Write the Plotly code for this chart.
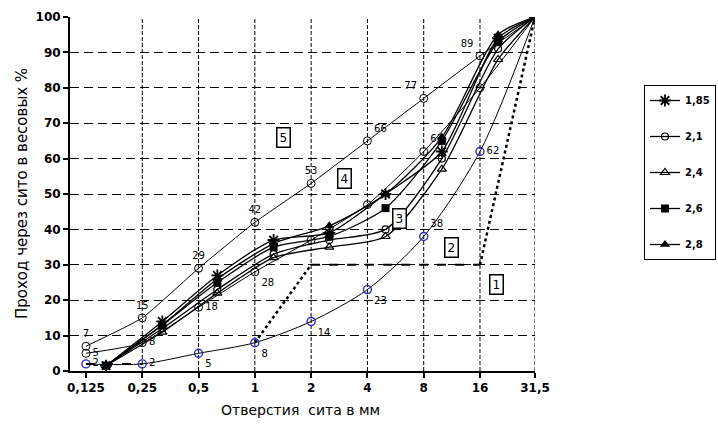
import numpy as np
import plotly.graph_objects as go

# ---------------- data ----------------
sieve_ticks = [0.125, 0.25, 0.5, 1, 2, 4, 8, 16, 31.5]
sieve_labels = ["0,125", "0,25", "0,5", "1", "2", "4", "8", "16", "31,5"]

# grading envelope curves (at sieve sizes)
curve5_y = [7, 15, 29, 42, 53, 65, 77, 89, 100]
curve5_lbl = ["7", "15", "29", "42", "53", "66", "77", "89", ""]
curve4_y = [5, 8, 18, 28, 37, 47, 62, 80, 100]
curve4_lbl = ["5", "8", "18", "28", "", "", "62", "", ""]
curve2_y = [2, 2, 5, 8, 14, 23, 38, 62, 100]
curve2_lbl = ["2", "2", "5", "8", "14", "23", "38", "62", ""]

curve1_x = [0.125, 0.25, 0.5, 1, 2, 16, 31.5]
curve1_y = [2, 2, 5, 8, 30, 30, 100]

# measured mixes (legend series)
mix_x = [0.16, 0.32, 0.63, 1.26, 2.5, 5, 10, 20, 31.5]
mix_names = ["1,85", "2,1", "2,4", "2,6", "2,8"]
mix_1_85 = [1.5, 14, 27, 37, 39, 50, 62, 94, 100]
mix_2_1 = [1.5, 12, 23, 33, 37, 40, 60, 91, 100]
mix_2_4 = [1.5, 11, 22, 32, 35, 38, 57, 88, 100]
mix_2_6 = [1.5, 13, 25, 35, 38, 46, 65, 93, 100]
mix_2_8 = [1.5, 13, 26, 36, 41, 50, 66, 95, 100]

zone_labels = ["5", "4", "3", "2", "1"]
zone_x = [1.43, 3.03, 5.97, 11.2, 19.7]
zone_y = [66, 54.5, 43, 35, 24.5]

# ---------------- figure ----------------
FONT = "DejaVu Sans, Verdana, sans-serif"
fig = go.Figure()

# envelope curves
fig.add_trace(go.Scatter(x=sieve_ticks, y=curve5_y, mode="lines+markers",
                         line=dict(color="black", width=1, shape="spline", smoothing=0.4),
                         marker=dict(symbol="circle-open", size=8, color="black", line=dict(width=1)),
                         showlegend=False, hoverinfo="skip"))
fig.add_trace(go.Scatter(x=sieve_ticks, y=curve4_y, mode="lines+markers",
                         line=dict(color="black", width=1, shape="spline", smoothing=0.6),
                         marker=dict(symbol="circle-open", size=8, color="black", line=dict(width=1)),
                         showlegend=False, hoverinfo="skip"))
fig.add_trace(go.Scatter(x=sieve_ticks, y=curve2_y, mode="lines+markers",
                         line=dict(color="black", width=1, shape="spline", smoothing=0.8),
                         marker=dict(symbol="circle-open", size=8, color="#2b2bb8", line=dict(width=1.4)),
                         showlegend=False, hoverinfo="skip"))

# curve 1 (gap grading): dotted rises, dashed horizontal
fig.add_trace(go.Scatter(x=curve1_x[:2], y=curve1_y[:2], mode="lines",
                         line=dict(color="black", width=2, dash="dash"),
                         showlegend=False, hoverinfo="skip"))
fig.add_trace(go.Scatter(x=curve1_x[3:5], y=curve1_y[3:5], mode="lines",
                         line=dict(color="black", width=2.5, dash="dot"),
                         showlegend=False, hoverinfo="skip"))
fig.add_trace(go.Scatter(x=curve1_x[4:6], y=curve1_y[4:6], mode="lines",
                         line=dict(color="black", width=2, dash="dash"),
                         showlegend=False, hoverinfo="skip"))
fig.add_trace(go.Scatter(x=curve1_x[5:7], y=curve1_y[5:7], mode="lines",
                         line=dict(color="black", width=2.5, dash="dot"),
                         showlegend=False, hoverinfo="skip"))

# mixes
mix_data = [mix_1_85, mix_2_1, mix_2_4, mix_2_6, mix_2_8]
mix_markers = [
    dict(symbol="asterisk-open", size=10, color="black", line=dict(width=1.8, color="black")),
    dict(symbol="circle-open", size=7, color="black", line=dict(width=1.2)),
    dict(symbol="triangle-up-open", size=8, color="black", line=dict(width=1.2)),
    dict(symbol="square", size=8, color="black"),
    dict(symbol="triangle-up", size=9, color="black"),
]
for i, (nm, yy, mk) in enumerate(zip(mix_names, mix_data, mix_markers)):
    fig.add_trace(go.Scatter(x=mix_x, y=yy, mode="lines+markers", name=nm,
                             legendgroup=f"g{i}",
                             line=dict(color="black", width=1.3, shape="spline", smoothing=0.7),
                             marker=mk, hoverinfo="skip"))

# value labels (invisible markers give the text an offset from the points)
lab_font = dict(family=FONT, size=10, color="black")
ghost = dict(size=9, opacity=0)
fig.add_trace(go.Scatter(x=sieve_ticks, y=curve5_y, mode="markers+text", text=curve5_lbl,
                         marker=ghost,
                         textposition=["top center", "top center", "top center", "top center",
                                       "top center", "top right", "top left", "top left", "top center"],
                         textfont=lab_font, showlegend=False, hoverinfo="skip"))
fig.add_trace(go.Scatter(x=sieve_ticks, y=curve4_y, mode="markers+text", text=curve4_lbl,
                         marker=ghost,
                         textposition=["middle right", "middle right", "middle right", "bottom right",
                                       "middle right", "middle right", "top right", "middle right", "middle right"],
                         textfont=lab_font, showlegend=False, hoverinfo="skip"))
fig.add_trace(go.Scatter(x=sieve_ticks, y=curve2_y, mode="markers+text", text=curve2_lbl,
                         marker=ghost,
                         textposition=["middle right", "middle right", "bottom right", "bottom right",
                                       "bottom right", "bottom right", "top right", "middle right", "middle right"],
                         textfont=lab_font, showlegend=False, hoverinfo="skip"))

# zone boxes
for lb, zx, zy in zip(zone_labels, zone_x, zone_y):
    fig.add_annotation(x=np.log10(zx), y=zy, xref="x", yref="y", text=lb, showarrow=False,
                       font=dict(family=FONT, size=12, color="black"),
                       bordercolor="black", borderwidth=1.5, borderpad=2, bgcolor="white")

# vertical grid lines (no line at the first sieve)
for v in sieve_ticks[1:]:
    fig.add_shape(type="line", xref="x", yref="y", x0=v, x1=v, y0=0, y1=100,
                  line=dict(color="black", width=1, dash="4px,2px"), layer="below")

fig.add_annotation(x=(22 - 70) / 465, y=(371 - 194) / 354, xref="paper", yref="paper",
                   text="Проход через сито в весовых %", xanchor="center", yanchor="middle",
                   textangle=-90, showarrow=False, font=dict(family=FONT, size=15, color="black"))
fig.add_annotation(x=(300 - 70) / 465, y=-(410 - 371) / 354, xref="paper", yref="paper",
                   text="Отверстия  сита в мм", xanchor="center", yanchor="middle",
                   showarrow=False, font=dict(family=FONT, size=14, color="black"))

fig.update_layout(
    width=718, height=425,
    margin=dict(l=70, r=183, t=17, b=54, autoexpand=False),
    paper_bgcolor="white", plot_bgcolor="white",
    font=dict(family=FONT, color="black"),
    xaxis=dict(type="log", range=[-0.9886, 1.4983], tickvals=sieve_ticks, ticktext=sieve_labels,
               showgrid=False, zeroline=False, showline=True, linecolor="black", linewidth=2,
               ticks="outside", ticklen=5, tickcolor="black", tickwidth=1.5,
               tickfont=dict(family=FONT, size=12, color="black", weight="bold")),
    yaxis=dict(range=[0, 100], dtick=10, tick0=0, showgrid=True, gridcolor="black", gridwidth=1,
               griddash="9px,5px", zeroline=False, showline=True, linecolor="black", linewidth=2,
               ticks="outside", ticklen=5, tickcolor="black", tickwidth=1.5,
               tickfont=dict(family=FONT, size=12, color="black", weight="bold")),
    legend=dict(x=(644 - 70) / 465, y=(371 - 85) / 354, xanchor="left", yanchor="top",
                bordercolor="black", borderwidth=1, bgcolor="white",
                tracegroupgap=17, itemwidth=30,
                font=dict(family=FONT, size=10, color="black", weight="bold")),
)

fig.write_html("out.html")
